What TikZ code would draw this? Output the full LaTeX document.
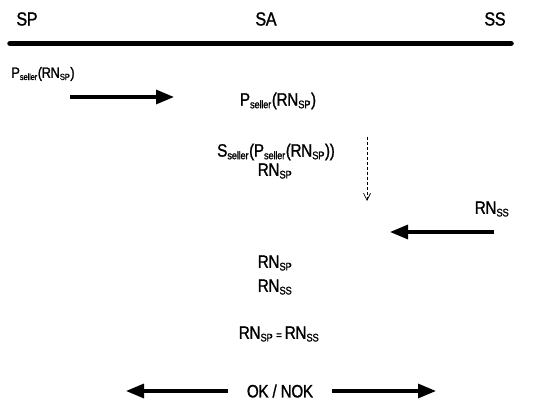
\documentclass[tikz,border=0pt]{standalone}
\usepackage{fontspec}
\setmainfont{Liberation Sans}[FakeStretch=0.85, FakeBold=1.2, LetterSpace=-2]
\usetikzlibrary{arrows.meta}
\newcommand{\subt}[1]{\textsubscript{\fontsize{11}{11}\selectfont #1}}
\tikzset{
  head/.style={font=\fontsize{19}{19}\selectfont, inner sep=0pt},
  lbl/.style={font=\fontsize{18}{18}\selectfont, inner sep=0pt},
  msg/.style={line width=3.2pt, -{Triangle[length=18pt,width=14pt]}},
  dashmsg/.style={line width=0.7pt, dashed, dash pattern=on 3pt off 2pt, -{Straight Barb[length=7pt,width=7pt,line width=0.7pt]}},
}
\begin{document}
\begin{tikzpicture}[x=1pt,y=-1pt]
\useasboundingbox (0,0) rectangle (547,403);
\node[head] (sp) at (27,19) {SP};
\node[head] (sa) at (266,19) {SA};
\node[head] (ss) at (495,19) {SS};
\coordinate (l1) at (10,43.5);
\coordinate (l2) at (511,43.5);
\draw[line width=5.5pt, line cap=round] (l1) -- (l2);

\node[lbl, font=\fontsize{15}{15}\selectfont] (p1) at (43,74) {P\textsubscript{\fontsize{9}{9}\selectfont seller}(RN\textsubscript{\fontsize{9}{9}\selectfont SP})};
\coordinate (a1s) at (70,97);
\coordinate (a1e) at (174,97);
\draw[msg] (a1s) -- (a1e);
\node[lbl] (p2) at (278,101) {P\subt{seller}(RN\subt{SP})};

\node[lbl] (s1) at (276,152) {S\subt{seller}(P\subt{seller}(RN\subt{SP}))};
\node[lbl] (r1) at (275,171) {RN\subt{SP}};
\coordinate (d1) at (367,137);
\coordinate (d2) at (367,201);
\draw[dashmsg] (d1) -- (d2);

\node[lbl] (rss) at (492,209) {RN\subt{SS}};
\coordinate (a2s) at (494,232);
\coordinate (a2e) at (390,232);
\draw[msg] (a2s) -- (a2e);

\node[lbl] (r2) at (275,263) {RN\subt{SP}};
\node[lbl] (r3) at (275,287) {RN\subt{SS}};
\node[lbl] (eq) at (279,334) {RN\subt{SP}\,{\fontsize{11}{11}\selectfont =}\,RN\subt{SS}};

\node[lbl] (ok) at (280,391) {OK / NOK};
\coordinate (a3s) at (228,391);
\coordinate (a3e) at (126,391);
\coordinate (a4s) at (332,391);
\coordinate (a4e) at (436,391);
\draw[msg] (a3s) -- (a3e);
\draw[msg] (a4s) -- (a4e);
\end{tikzpicture}
\end{document}
